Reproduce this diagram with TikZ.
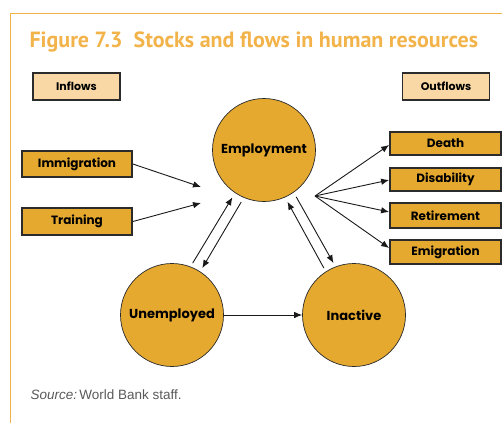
\documentclass[tikz,border=0pt]{standalone}
\usepackage{fontspec}
\usepackage{tikz}
\usetikzlibrary{arrows.meta}
\newfontfamily\labelfont{Poppins}
\newfontfamily\titlefont{PT Sans}
\setmainfont{Liberation Sans}
\definecolor{stock_gold}{HTML}{E6A930}
\definecolor{flow_light}{HTML}{F9D8A5}
\definecolor{frame_orange}{HTML}{F2B34A}
\definecolor{box_edge}{HTML}{2B2B2B}

\begin{document}
\begin{tikzpicture}[
                x=1pt,
                y=-1pt,
                stock/.style={circle, draw=box_edge, line width=0.7pt, fill=stock_gold,
                    minimum size=103pt, inner sep=0pt, font=\labelfont\bfseries\fontsize{13}{15}\selectfont},
                flowbox/.style={draw=box_edge, line width=1.8pt, fill=stock_gold,
                    minimum width=110pt, minimum height=24pt, inner sep=0pt,
                    font=\labelfont\bfseries\fontsize{12}{14}\selectfont},
                headbox/.style={flowbox, fill=flow_light, minimum width=87pt, minimum height=27pt,
                    font=\labelfont\bfseries\fontsize{11}{13}\selectfont},
                flow/.style={-{Latex[length=8pt,width=6.5pt]}, line width=0.9pt, black!90}
            ]
            \useasboundingbox (0,0) rectangle (502,423);

            % Frame and title
            \draw[frame_orange, line width=1pt] (502,13) -- (10,13) -- (10,423);
            \node[anchor=west, text=frame_orange, font=\titlefont\bfseries\fontsize{22}{24}\selectfont]
                (title) at (26,42) {Figure 7.3\ \ Stocks and flows in human resources};

            % Headings
            \node[headbox] (inflows) at (76.5,86.5) {Inflows};
            \node[headbox] (outflows) at (446,86.5) {Outflows};

            % Stocks
            \node[stock] (emp) at (264,150) {Employment};
            \node[stock] (unemp) at (172,315) {Unemployed};
            \node[stock] (inact) at (354,315) {Inactive};

            % Inflows
            \node[flowbox, minimum height=26pt] (imm) at (77,164) {Immigration};
            \node[flowbox, minimum height=27pt] (train) at (77,221.5) {Training};
            \coordinate (immend) at (201,187);
            \coordinate (trainend) at (201,203);
            \draw[flow] (imm.east) -- (immend);
            \draw[flow] (train.east) -- (trainend);

            % Outflows
            \node[flowbox, minimum width=111pt, minimum height=23pt] (death) at (445.5,143.5) {Death};
            \node[flowbox, minimum width=111pt, minimum height=23pt] (disab) at (445.5,179.5) {Disability};
            \node[flowbox, minimum width=111pt, minimum height=25pt] (retire) at (445.5,215.5) {Retirement};
            \node[flowbox, minimum width=111pt, minimum height=24pt] (emig) at (445.5,252) {Emigration};
            \coordinate (hub) at (315,196);
            \foreach \target/\ty in {death/145, disab/180, retire/212, emig/248}
                \draw[flow] (hub) -- (\target.west |- 0,\ty);

            % Movements between stocks
            \draw[flow, shorten <=4pt, shorten >=5pt] (unemp.69) -- (emp.236);
            \draw[flow, shorten <=5pt, shorten >=4pt] (emp.247) -- (unemp.57);
            \draw[flow, shorten <=4pt, shorten >=5pt] (inact.123) -- (emp.294);
            \draw[flow, shorten <=5pt, shorten >=4pt] (emp.305) -- (inact.111);
            \draw[flow] (unemp.east) -- (inact.west);

            % Source line
            \node[anchor=west, text=black!65, font=\fontsize{13.5}{15}\selectfont]
                (source) at (27,395) {\textit{Source:}\,World Bank staff.};
\end{tikzpicture}
\end{document}
